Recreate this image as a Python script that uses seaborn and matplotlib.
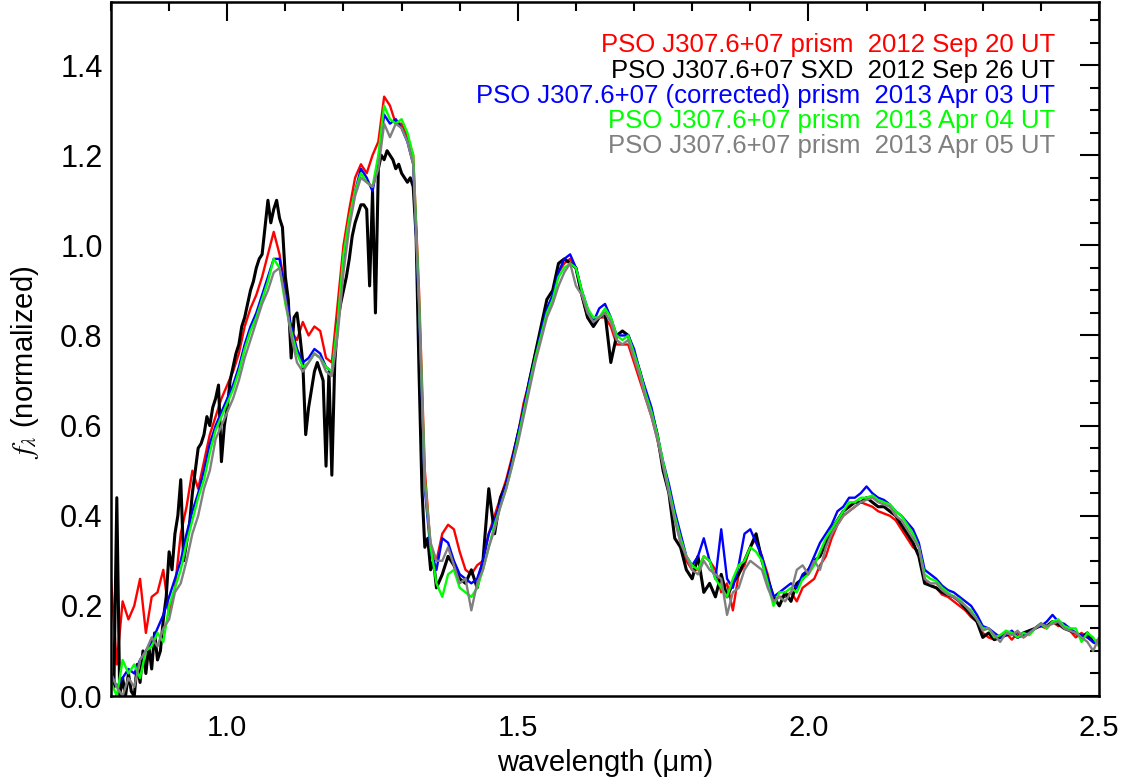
import numpy as np
import pandas as pd
import matplotlib
matplotlib.use("Agg")
import matplotlib.pyplot as plt
from matplotlib.ticker import MultipleLocator, FormatStrFormatter
from matplotlib import font_manager
import seaborn as sns

# ---------------- data ----------------
# prism spectra sampled every 0.01 micron from 0.80 to 2.50
wave_prism = np.round(np.arange(0.80, 2.5001, 0.01), 3)

flux_red_2012sep20 = [
    0.26, 0.07, 0.21, 0.17, 0.20, 0.26, 0.14, 0.22, 0.23, 0.28,
    0.18, 0.24, 0.36, 0.42, 0.50, 0.46, 0.52, 0.58, 0.62, 0.66,
    0.69, 0.72, 0.76, 0.82, 0.86, 0.89, 0.93, 0.98, 1.03, 0.98,
    0.90, 0.81, 0.79, 0.83, 0.80, 0.82, 0.81, 0.75, 0.74, 0.87,
    1.00, 1.08, 1.15, 1.18, 1.16, 1.20, 1.23, 1.33, 1.31, 1.27,
    1.27, 1.24, 1.20, 0.90, 0.50, 0.33, 0.30, 0.36, 0.38, 0.37,
    0.32, 0.28, 0.27, 0.29, 0.30, 0.36, 0.40, 0.44, 0.48, 0.53,
    0.58, 0.65, 0.70, 0.76, 0.81, 0.86, 0.88, 0.94, 0.96, 0.97,
    0.95, 0.89, 0.84, 0.82, 0.84, 0.84, 0.82, 0.78, 0.78, 0.78,
    0.74, 0.70, 0.66, 0.62, 0.57, 0.51, 0.45, 0.40, 0.34, 0.30,
    0.28, 0.28, 0.31, 0.30, 0.28, 0.23, 0.25, 0.19, 0.27, 0.29,
    0.33, 0.35, 0.31, 0.27, 0.21, 0.22, 0.22, 0.23, 0.21, 0.24,
    0.25, 0.26, 0.29, 0.31, 0.35, 0.38, 0.40, 0.41, 0.42, 0.43,
    0.425, 0.42, 0.41, 0.405, 0.40, 0.39, 0.37, 0.35, 0.33, 0.32,
    0.26, 0.245, 0.24, 0.225, 0.22, 0.21, 0.20, 0.19, 0.175, 0.165,
    0.14, 0.13, 0.125, 0.135, 0.14, 0.125, 0.14, 0.13, 0.14, 0.15,
    0.155, 0.15, 0.165, 0.155, 0.16, 0.145, 0.13, 0.14, 0.13, 0.12,
    0.125,
]

flux_blue_2013apr03 = [
    0.05, 0.02, 0.04, 0.06, 0.05, 0.08, 0.10, 0.12, 0.15, 0.18,
    0.22, 0.26, 0.30, 0.36, 0.41, 0.45, 0.50, 0.56, 0.60, 0.63,
    0.66, 0.69, 0.73, 0.78, 0.82, 0.85, 0.89, 0.93, 0.97, 0.97,
    0.89, 0.82, 0.77, 0.74, 0.75, 0.77, 0.76, 0.73, 0.72, 0.82,
    0.96, 1.05, 1.12, 1.17, 1.15, 1.12, 1.19, 1.29, 1.27, 1.28,
    1.26, 1.23, 1.18, 0.86, 0.46, 0.32, 0.28, 0.35, 0.34, 0.30,
    0.27, 0.26, 0.25, 0.26, 0.30, 0.36, 0.39, 0.43, 0.47, 0.52,
    0.58, 0.64, 0.70, 0.75, 0.81, 0.86, 0.89, 0.94, 0.97, 0.98,
    0.95, 0.90, 0.86, 0.83, 0.86, 0.87, 0.84, 0.80, 0.80, 0.80,
    0.77, 0.72, 0.68, 0.64, 0.58, 0.52, 0.47, 0.41, 0.36, 0.31,
    0.29, 0.31, 0.35, 0.30, 0.26, 0.37, 0.26, 0.24, 0.29, 0.36,
    0.37, 0.34, 0.31, 0.26, 0.22, 0.23, 0.24, 0.25, 0.24, 0.27,
    0.28, 0.31, 0.34, 0.36, 0.38, 0.41, 0.42, 0.44, 0.44, 0.45,
    0.465, 0.45, 0.44, 0.435, 0.425, 0.41, 0.40, 0.385, 0.37, 0.34,
    0.28, 0.27, 0.26, 0.245, 0.235, 0.23, 0.22, 0.21, 0.20, 0.18,
    0.155, 0.15, 0.14, 0.13, 0.135, 0.145, 0.13, 0.135, 0.14, 0.15,
    0.155, 0.165, 0.18, 0.165, 0.16, 0.15, 0.14, 0.135, 0.13, 0.12,
    0.115,
]

flux_green_2013apr04 = [
    0.03, 0.00, 0.08, 0.05, 0.07, 0.04, 0.10, 0.11, 0.14, 0.12,
    0.20, 0.24, 0.28, 0.34, 0.39, 0.44, 0.48, 0.54, 0.59, 0.62,
    0.65, 0.68, 0.72, 0.77, 0.81, 0.84, 0.88, 0.92, 0.97, 0.95,
    0.87, 0.81, 0.76, 0.73, 0.74, 0.76, 0.75, 0.73, 0.72, 0.83,
    0.98, 1.06, 1.12, 1.16, 1.14, 1.13, 1.20, 1.31, 1.28, 1.27,
    1.28, 1.25, 1.20, 0.88, 0.48, 0.33, 0.25, 0.22, 0.27, 0.28,
    0.24, 0.23, 0.22, 0.24, 0.28, 0.33, 0.38, 0.42, 0.46, 0.51,
    0.57, 0.63, 0.69, 0.75, 0.80, 0.85, 0.88, 0.93, 0.95, 0.96,
    0.95, 0.90, 0.86, 0.84, 0.84, 0.86, 0.84, 0.80, 0.79, 0.80,
    0.76, 0.72, 0.67, 0.63, 0.58, 0.52, 0.46, 0.40, 0.35, 0.31,
    0.29, 0.28, 0.31, 0.30, 0.26, 0.24, 0.22, 0.26, 0.29, 0.30,
    0.33, 0.32, 0.30, 0.25, 0.20, 0.23, 0.23, 0.24, 0.23, 0.26,
    0.27, 0.29, 0.32, 0.35, 0.37, 0.39, 0.41, 0.43, 0.43, 0.44,
    0.44, 0.445, 0.435, 0.43, 0.425, 0.41, 0.40, 0.38, 0.36, 0.33,
    0.27, 0.26, 0.255, 0.24, 0.23, 0.22, 0.215, 0.20, 0.19, 0.17,
    0.15, 0.15, 0.13, 0.135, 0.145, 0.14, 0.13, 0.14, 0.135, 0.15,
    0.16, 0.15, 0.165, 0.17, 0.155, 0.15, 0.15, 0.12, 0.14, 0.13,
    0.11,
]

flux_gray_2013apr05 = [
    0.05, 0.02, 0.00, 0.04, 0.02, 0.08, 0.10, 0.13, 0.11, 0.15,
    0.17, 0.23, 0.25, 0.30, 0.36, 0.40, 0.46, 0.50, 0.57, 0.60,
    0.63, 0.66, 0.70, 0.75, 0.79, 0.83, 0.87, 0.90, 0.94, 0.95,
    0.88, 0.80, 0.74, 0.72, 0.74, 0.76, 0.75, 0.72, 0.71, 0.80,
    0.94, 1.04, 1.11, 1.15, 1.14, 1.13, 1.17, 1.27, 1.24, 1.27,
    1.26, 1.23, 1.18, 0.87, 0.47, 0.34, 0.30, 0.30, 0.33, 0.29,
    0.25, 0.26, 0.19, 0.25, 0.28, 0.33, 0.37, 0.42, 0.46, 0.51,
    0.56, 0.62, 0.68, 0.74, 0.79, 0.84, 0.87, 0.91, 0.94, 0.96,
    0.91, 0.89, 0.85, 0.83, 0.84, 0.85, 0.83, 0.79, 0.78, 0.79,
    0.75, 0.71, 0.66, 0.62, 0.57, 0.51, 0.45, 0.39, 0.34, 0.31,
    0.28, 0.27, 0.30, 0.28, 0.27, 0.26, 0.18, 0.23, 0.24, 0.28,
    0.30, 0.29, 0.28, 0.24, 0.21, 0.22, 0.21, 0.23, 0.28, 0.29,
    0.27, 0.30, 0.28, 0.33, 0.36, 0.38, 0.40, 0.41, 0.42, 0.43,
    0.435, 0.44, 0.43, 0.425, 0.42, 0.40, 0.39, 0.37, 0.35, 0.33,
    0.26, 0.25, 0.25, 0.235, 0.225, 0.22, 0.21, 0.20, 0.185, 0.17,
    0.145, 0.15, 0.135, 0.12, 0.14, 0.135, 0.145, 0.13, 0.14, 0.15,
    0.16, 0.155, 0.16, 0.165, 0.15, 0.145, 0.14, 0.13, 0.12, 0.10,
    0.13,
]

# SXD spectrum: 0.005 micron sampling to 1.36, then 0.01 micron to 2.50
wave_sxd = np.round(np.concatenate([np.arange(0.805, 1.3601, 0.005),
                                    np.arange(1.37, 2.5001, 0.01)]), 3)

flux_black_2012sep26 = [
    # 0.805 - 1.360 (step 0.005)
    0.02, 0.44, 0.00, 0.04, 0.00, 0.05, 0.01, 0.00, 0.07, 0.03,
    0.10, 0.05, 0.11, 0.06, 0.14, 0.08, 0.10, 0.17, 0.22, 0.32,
    0.28, 0.36, 0.40, 0.48, 0.30, 0.34, 0.38, 0.45, 0.50, 0.55,
    0.56, 0.58, 0.62, 0.60, 0.64, 0.66, 0.69, 0.52, 0.60, 0.64,
    0.70, 0.73, 0.76, 0.78, 0.82, 0.84, 0.87, 0.90, 0.92, 0.95,
    0.97, 0.98, 1.04, 1.10, 1.05, 1.08, 1.10, 1.06, 1.04, 0.93,
    0.88, 0.75, 0.84, 0.85, 0.80, 0.74, 0.58, 0.64, 0.68, 0.72,
    0.74, 0.72, 0.70, 0.51, 0.72, 0.49, 0.74, 0.83, 0.87, 0.90,
    0.93, 0.97, 1.02, 1.05, 1.07, 1.09, 1.09, 1.08, 0.91, 1.12,
    0.85, 1.17, 1.20, 1.19, 1.21, 1.20, 1.19, 1.17, 1.18, 1.16,
    1.15, 1.14, 1.15, 1.13, 1.02, 0.72, 0.46, 0.33, 0.35, 0.28,
    0.30, 0.24,
    # 1.37 - 2.50 (step 0.01)
    0.27, 0.31, 0.29, 0.26, 0.25, 0.28, 0.24, 0.30, 0.46, 0.36,
    0.44, 0.47, 0.52, 0.58, 0.63, 0.70, 0.76, 0.82, 0.88, 0.90,
    0.96, 0.97, 0.96, 0.95, 0.89, 0.84, 0.82, 0.84, 0.85, 0.74,
    0.80, 0.81, 0.80, 0.76, 0.72, 0.67, 0.63, 0.58, 0.50, 0.45,
    0.35, 0.33, 0.28, 0.26, 0.31, 0.23, 0.25, 0.22, 0.27, 0.22,
    0.25, 0.27, 0.30, 0.33, 0.36, 0.30, 0.26, 0.22, 0.20, 0.23,
    0.21, 0.25, 0.26, 0.28, 0.30, 0.31, 0.34, 0.37, 0.39, 0.41,
    0.42, 0.43, 0.43, 0.44, 0.43, 0.42, 0.42, 0.41, 0.40, 0.38,
    0.36, 0.34, 0.31, 0.25, 0.245, 0.24, 0.23, 0.225, 0.22, 0.21,
    0.195, 0.18, 0.165, 0.13, 0.14, 0.125, 0.13, 0.135, 0.14, 0.13,
    0.14, 0.145, 0.15, 0.16, 0.155, 0.165, 0.16, 0.15, 0.145, 0.14,
    0.13, 0.14, 0.12, 0.115,
]

labels = [
    "PSO J307.6+07 prism  2012 Sep 20 UT",
    "PSO J307.6+07 SXD  2012 Sep 26 UT",
    "PSO J307.6+07 (corrected) prism  2013 Apr 03 UT",
    "PSO J307.6+07 prism  2013 Apr 04 UT",
    "PSO J307.6+07 prism  2013 Apr 05 UT",
]
colors = ["#ff0000", "#000000", "#0000ff", "#00ff00", "#808080"]

x_ticks = [1.0, 1.5, 2.0, 2.5]
y_ticks = [0.0, 0.2, 0.4, 0.6, 0.8, 1.0, 1.2, 1.4]

# ---------------- plot ----------------
sns.set_theme(style="white")
plt.rcParams["font.family"] = ["Liberation Sans", "DejaVu Sans"]
plt.rcParams["mathtext.fontset"] = "stix"
for k in ("text.color", "axes.labelcolor", "xtick.color", "ytick.color"):
    plt.rcParams[k] = "black"

names = {f.name for f in font_manager.fontManager.ttflist}
narrow = "Liberation Sans Narrow" if "Liberation Sans Narrow" in names else "Liberation Sans"

fig = plt.figure(figsize=(11.31, 7.81), dpi=100)
ax = fig.add_axes([111 / 1131, 1 - 696 / 781, 988 / 1131, 694 / 781])

series = [
    (wave_prism, flux_red_2012sep20, 1.7),
    (wave_sxd, flux_black_2012sep26, 2.2),
    (wave_prism, flux_blue_2013apr03, 1.7),
    (wave_prism, flux_green_2013apr04, 1.7),
    (wave_prism, flux_gray_2013apr05, 1.7),
]
for (w, f, lw), c in zip(series, colors):
    df = pd.DataFrame({"wavelength": w, "flux": f})
    sns.lineplot(data=df, x="wavelength", y="flux", color=c, linewidth=lw,
                 estimator=None, sort=False, ax=ax, legend=False)

ax.set_xlim(0.8, 2.5)
ax.set_ylim(0.0, 1.54)
ax.set_xticks(x_ticks)
ax.set_yticks(y_ticks)
ax.xaxis.set_minor_locator(MultipleLocator(0.1))
ax.yaxis.set_minor_locator(MultipleLocator(0.05))
ax.xaxis.set_major_formatter(FormatStrFormatter("%.1f"))
ax.yaxis.set_major_formatter(FormatStrFormatter("%.1f"))

for s in ax.spines.values():
    s.set_visible(True)
    s.set_linewidth(1.8)
    s.set_color("black")

ax.tick_params(which="both", direction="in", top=True, right=True,
               color="black", labelcolor="black", width=1.5)
ax.tick_params(which="major", length=13.7)
ax.tick_params(which="minor", length=6.8)
ax.tick_params(axis="y", which="major", labelsize=22, pad=6)
ax.tick_params(axis="x", which="major", labelsize=21, pad=13)
for t in ax.get_xticklabels():
    t.set_fontfamily(narrow)

ax.set_xlabel("wavelength (\u03bcm)", fontsize=21, color="black")
ax.xaxis.set_label_coords(0.5, (696 - 763) / 694)
ax.xaxis.label.set_va("center")
ax.set_ylabel(r"$f_\lambda$ (normalized)", fontsize=21, color="black")
ax.yaxis.set_label_coords((25 - 111) / 988, (696 - 362) / 694)
ax.yaxis.label.set_va("center")

ys = [45, 71, 96, 121, 146]
for lab, c, yp in zip(labels, colors, ys):
    ax.text((1055 - 111) / 988, (696 - yp) / 694, lab, color=c,
            fontsize=18.5, ha="right", va="center", transform=ax.transAxes)

fig.savefig("out.png", dpi=100)
